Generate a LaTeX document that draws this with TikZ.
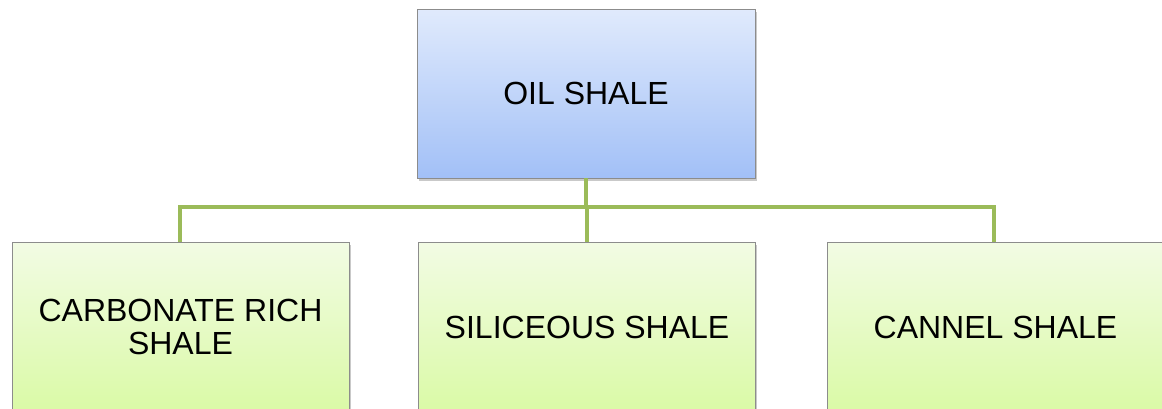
\documentclass[tikz,border=0pt]{standalone}
\usepackage{fontspec}
\setmainfont{Liberation Sans}
\usetikzlibrary{shadows}
\definecolor{topA}{HTML}{E0EAFC}
\definecolor{topB}{HTML}{A2C0F7}
\definecolor{leafA}{HTML}{F2FBE4}
\definecolor{leafB}{HTML}{DAFAA6}
\definecolor{linkgreen}{HTML}{9BBB59}
\definecolor{edgegray}{HTML}{8C8C8C}
\tikzset{
  box/.style={draw=edgegray, line width=0.9pt, align=center, inner sep=0pt,
    font=\fontsize{32}{33}\selectfont,
    drop shadow={shadow xshift=1.5pt, shadow yshift=-2.5pt, opacity=0.35, fill=black!60}},
  rootbox/.style={box, top color=topA, bottom color=topB,
    minimum width=338pt, minimum height=169pt},
  leafbox/.style={box, top color=leafA, bottom color=leafB,
    minimum width=337pt, minimum height=170pt},
  link/.style={draw=linkgreen, line width=4.5pt}
}
\begin{document}
\begin{tikzpicture}[x=1pt, y=-1pt]
  \clip (0,0) rectangle (1162,408);
  \fill[white] (0,0) rectangle (1162,408);

  % tree nodes
  \node[rootbox] (root) at (586,93.5) {OIL SHALE};
  \node[leafbox] (carb) at (180.5,327) {CARBONATE RICH\\SHALE};
  \node[leafbox] (sil)  at (587,327) {SILICEOUS SHALE};
  \node[leafbox] (can)  at (995.5,327) {CANNEL SHALE};

  % bus line joining the root to its children
  \coordinate (bus) at (585,207);
  \draw[link] (root.south) -- (root.south |- bus);
  \draw[link, line join=miter] ([xshift=-0.5pt]carb.north) |- (bus) -| ([xshift=-1.5pt]can.north);
  \draw[link] (sil.north) -- (sil.north |- bus);
\end{tikzpicture}
\end{document}
